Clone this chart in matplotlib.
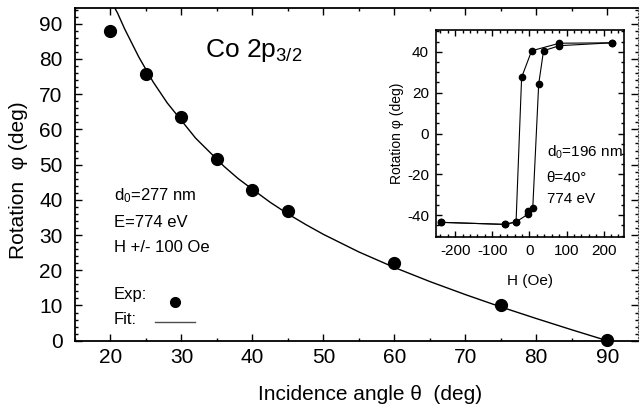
import matplotlib
matplotlib.use('Agg')
import matplotlib.pyplot as plt
from matplotlib.lines import Line2D
from matplotlib.ticker import MultipleLocator

plt.rcParams['font.family'] = ['Liberation Sans', 'DejaVu Sans']
plt.rcParams['mathtext.fontset'] = 'custom'
plt.rcParams['mathtext.rm'] = 'Liberation Sans'
plt.rcParams['mathtext.it'] = 'Liberation Sans:italic'
plt.rcParams['axes.unicode_minus'] = False

# main panel: measured rotation vs incidence angle
angle_exp = [20, 25, 30, 35, 40, 45, 60, 75, 90]
rot_exp = [87.8, 75.8, 63.6, 51.5, 42.8, 36.8, 22.0, 10.2, 0.3]

# fit curve
angle_fit = [20.6, 21.0, 22.0, 23.0, 24.0, 25.0, 26.0, 27.0, 28.0, 29.0, 30.0, 32.0, 34.0, 36.0,
             38.0, 40.0, 42.5, 45.0, 47.5, 50.0, 55.0, 60.0, 65.0, 70.0, 75.0, 80.0, 85.0, 90.0]
rot_fit = [94.5, 93.0, 88.5, 84.5, 80.5, 77.0, 73.5, 70.5, 67.5, 65.0, 62.5, 57.5, 53.5, 49.5,
           46.0, 43.0, 39.3, 36.0, 33.0, 30.2, 25.2, 20.8, 16.8, 13.1, 9.6, 6.3, 3.1, 0.0]

# inset: hysteresis loop at theta = 40 deg
h_down = [222, 81, 6, -21, -36, -67, -237]
rot_down = [44.4, 44.2, 40.5, 27.5, -43.3, -44.5, -43.5]
h_up = [-237, -67, -36, -4, -5, 9, 25, 38, 81, 222]
rot_up = [-43.5, -44.5, -43.3, -39.5, -38.0, -36.5, 24.2, 40.5, 43.0, 44.4]

fig = plt.figure(figsize=(6.41, 4.13), dpi=100)
ax = fig.add_axes([0.117, 0.175, 0.878, 0.806])

ax.plot(angle_fit, rot_fit, color='k', lw=1.0, zorder=2)
ax.plot(angle_exp, rot_exp, 'o', color='k', ms=8.5, clip_on=False, zorder=3)

ax.set_xlim(15, 94.3)
ax.set_ylim(0, 94.5)
ax.xaxis.set_major_locator(MultipleLocator(10))
ax.xaxis.set_minor_locator(MultipleLocator(5))
ax.yaxis.set_major_locator(MultipleLocator(10))
ax.yaxis.set_minor_locator(MultipleLocator(2))
ax.tick_params(which='both', direction='in', top=True, right=True, width=1.0, labelsize=15)
ax.tick_params(which='major', length=5)
ax.tick_params(which='minor', length=2.5)
ax.tick_params(axis='y', pad=9)
ax.tick_params(axis='x', pad=5)
for s in ['left', 'bottom', 'top']:
    ax.spines[s].set_linewidth(1.3)
ax.spines['right'].set_linestyle(':')
ax.spines['right'].set_color('0.35')

ax.set_xlabel('Incidence angle θ  (deg)', fontsize=15)
ax.xaxis.set_label_coords(0.524, -0.163)
ax.xaxis.label.set_va('center')
ax.set_ylabel('Rotation  φ (deg)', fontsize=15)
ax.yaxis.set_label_coords(-0.101, 0.483)
ax.yaxis.label.set_va('center')

ax.text(0.231, 0.853, r'Co 2$\mathrm{p_{3/2}}$', transform=ax.transAxes, fontsize=19, va='baseline')
ax.text(0.069, 0.423, r'$\mathrm{d_0}$=277 nm', transform=ax.transAxes, fontsize=12, va='baseline')
ax.text(0.069, 0.341, 'E=774 eV', transform=ax.transAxes, fontsize=12, va='baseline')
ax.text(0.069, 0.2675, 'H +/- 100 Oe', transform=ax.transAxes, fontsize=12, va='baseline')

# key: labels on the left, symbols lined up on the right
ax.text(0.069, 0.124, 'Exp:', transform=ax.transAxes, fontsize=12, va='baseline')
ax.text(0.069, 0.051, 'Fit:', transform=ax.transAxes, fontsize=12, va='baseline')
handles = [Line2D([], [], ls='none', marker='o', color='k', ms=7),
           Line2D([], [], color='0.3', lw=1.0)]
ax.legend(handles, ['', ''], loc='upper left', bbox_to_anchor=(0.143, 0.136),
          frameon=False, fontsize=12, borderpad=0, borderaxespad=0,
          handlelength=2.4, handletextpad=0, labelspacing=0.35)

# inset
ins = fig.add_axes([0.680, 0.427, 0.293, 0.500])
ins.plot(h_down, rot_down, '-o', color='k', lw=0.8, ms=4.5, clip_on=False)
ins.plot(h_up, rot_up, '-o', color='k', lw=0.8, ms=4.5, clip_on=False)
ins.set_xlim(-252, 254)
ins.set_ylim(-50.5, 50.6)
ins.xaxis.set_major_locator(MultipleLocator(100))
ins.xaxis.set_minor_locator(MultipleLocator(20))
ins.yaxis.set_major_locator(MultipleLocator(20))
ins.yaxis.set_minor_locator(MultipleLocator(5))
ins.tick_params(which='both', direction='in', top=True, right=True, width=1.0, labelsize=11)
ins.tick_params(which='major', length=4.5)
ins.tick_params(which='minor', length=2.5)
ins.tick_params(axis='both', pad=5)
for s in ins.spines.values():
    s.set_linewidth(1.2)
ins.set_xlabel('H (Oe)', fontsize=11)
ins.xaxis.set_label_coords(0.5, -0.215)
ins.xaxis.label.set_va('center')
ins.set_ylabel('Rotation φ (deg)', fontsize=10)
ins.yaxis.set_label_coords(-0.207, 0.5)
ins.yaxis.label.set_va('center')

ins.text(0.59, 0.390, r'$\mathrm{d_0}$=196 nm', transform=ins.transAxes, fontsize=11, va='baseline')
ins.text(0.59, 0.265, 'θ=40°', transform=ins.transAxes, fontsize=11, va='baseline')
ins.text(0.59, 0.164, '774 eV', transform=ins.transAxes, fontsize=11, va='baseline')

fig.savefig('out.png', dpi=100)
